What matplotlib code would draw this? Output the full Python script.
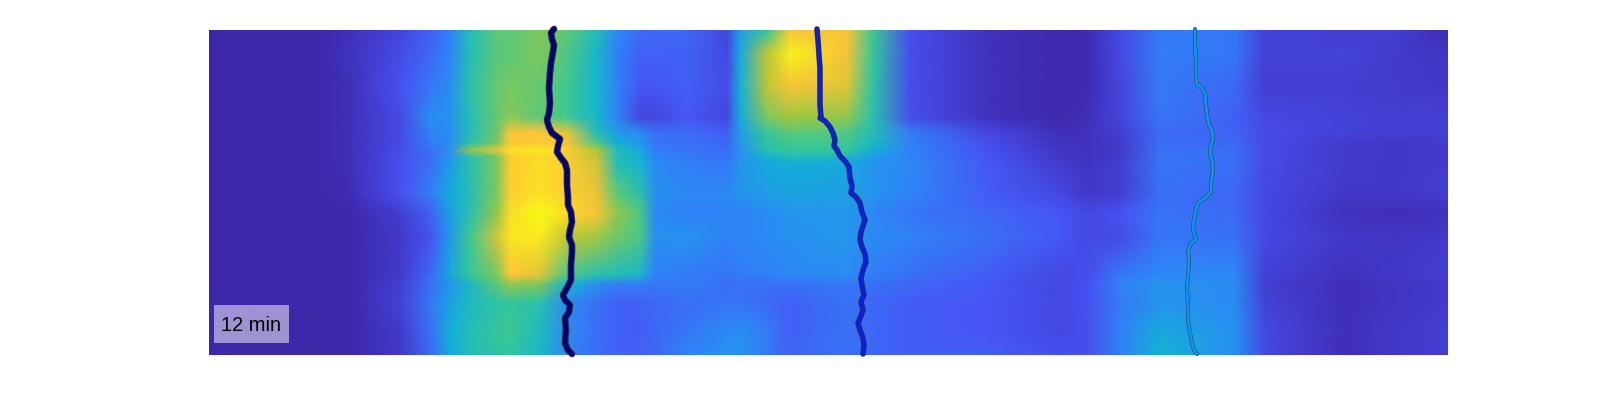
import numpy as np
import matplotlib
matplotlib.use("Agg")
import matplotlib.pyplot as plt
from matplotlib.colors import LinearSegmentedColormap
from matplotlib.patches import Rectangle
import matplotlib.patheffects as pe

# grid positions, read in reference pixels
grid_x = [209, 313, 348, 400, 430, 450, 470, 497, 510, 540, 567, 597, 617, 640, 655,
          687, 727, 740, 767, 790, 847, 873, 910, 987, 1060, 1087, 1120, 1160, 1235, 1265, 1345, 1395, 1448]
grid_y = [30, 53, 87, 117, 133, 143, 150, 157, 163, 193, 213, 237, 275, 284, 303, 330, 355]

# left half of the heat map
left_vals = [
    [0, 0, .03, .10, .18, .27, .50, .62, .62, .66, .62, .50, .30, .22, .20],
    [0, 0, .04, .12, .20, .28, .50, .61, .62, .66, .60, .45, .27, .18, .18],
    [0, 0, .03, .14, .24, .31, .52, .63, .65, .63, .58, .45, .28, .16, .15],
    [0, 0, .03, .12, .30, .33, .50, .63, .67, .62, .58, .45, .28, .10, .10],
    [0, 0, .03, .12, .27, .31, .50, .64, .86, .86, .82, .50, .36, .30, .22],
    [0, 0, .03, .12, .25, .31, .52, .66, .87, .87, .84, .60, .42, .34, .24],
    [0, 0, .03, .13, .23, .31, .68, .82, .93, .95, .88, .72, .50, .40, .26],
    [0, 0, .03, .13, .22, .33, .52, .66, .88, .92, .87, .74, .50, .43, .28],
    [0, 0, .03, .13, .22, .35, .52, .66, .88, .92, .88, .78, .50, .45, .30],
    [0, 0, .02, .14, .26, .40, .50, .66, .88, .93, .88, .82, .62, .52, .32],
    [0, 0, 0, .08, .18, .36, .52, .68, .92, 1.0, .92, .84, .68, .60, .30],
    [0, 0, 0, .06, .14, .35, .58, .78, .94, .95, .75, .70, .64, .60, .32],
    [0, 0, 0, .07, .20, .40, .56, .66, .86, .80, .60, .52, .50, .46, .27],
    [0, 0, 0, .08, .22, .33, .47, .62, .68, .66, .45, .32, .26, .26, .24],
    [0, 0, 0, .09, .24, .38, .48, .54, .56, .52, .30, .22, .18, .18, .20],
    [0, 0, 0, .07, .22, .42, .50, .56, .58, .48, .30, .22, .18, .17, .20],
    [0, 0, 0, .06, .20, .40, .50, .54, .55, .47, .28, .22, .18, .18, .20],
]
# right half of the heat map
right_vals = [
    [.20, .10, .36, .55, .84, .84, .58, .13, .04, .01, .02, .11, .25, .24, .09, .08, .08, .02],
    [.19, .11, .40, .74, .97, .84, .56, .13, .04, .01, .02, .11, .26, .24, .09, .09, .07, .05],
    [.18, .12, .42, .74, .84, .80, .54, .13, .04, .01, .02, .10, .25, .20, .08, .08, .07, .06],
    [.16, .10, .40, .66, .70, .68, .52, .13, .04, .01, .03, .10, .24, .18, .11, .09, .08, .08],
    [.22, .17, .36, .56, .62, .60, .50, .26, .11, .03, .04, .08, .21, .19, .12, .09, .08, .08],
    [.23, .20, .34, .54, .58, .58, .48, .27, .13, .04, .04, .07, .22, .20, .12, .07, .06, .07],
    [.24, .22, .32, .52, .56, .56, .42, .28, .14, .05, .04, .07, .22, .22, .12, .07, .06, .07],
    [.25, .23, .32, .44, .50, .48, .36, .28, .15, .06, .04, .07, .24, .22, .12, .07, .06, .07],
    [.26, .25, .33, .40, .42, .40, .33, .29, .16, .07, .05, .08, .24, .22, .12, .07, .06, .07],
    [.29, .29, .33, .36, .38, .37, .33, .28, .17, .11, .06, .08, .22, .20, .11, .06, .06, .08],
    [.27, .27, .28, .30, .33, .34, .29, .24, .20, .15, .11, .14, .24, .21, .11, .04, .03, .04],
    [.33, .27, .28, .30, .32, .34, .30, .27, .22, .16, .11, .12, .24, .23, .11, .06, .05, .07],
    [.25, .24, .26, .27, .29, .30, .26, .23, .17, .11, .13, .24, .29, .29, .09, .04, .06, .08],
    [.26, .22, .22, .23, .23, .25, .23, .20, .16, .11, .14, .27, .33, .30, .08, .03, .05, .07],
    [.22, .24, .24, .21, .18, .23, .20, .17, .15, .11, .14, .25, .33, .30, .09, .03, .05, .07],
    [.24, .29, .31, .25, .18, .23, .20, .17, .15, .11, .13, .27, .40, .32, .11, .03, .06, .08],
    [.28, .33, .33, .25, .19, .23, .20, .17, .17, .13, .13, .27, .44, .32, .11, .03, .06, .08],
]

# the three fronts
front1_x = [554, 551, 552, 554, 553, 551, 550, 549, 550, 549, 547, 549, 552, 556, 560, 558, 557, 561, 565, 567,
            567, 568, 568, 571, 572, 570, 569, 572, 572, 571, 571, 567, 563, 565, 570, 569, 565, 566, 565, 568, 572]
front1_y = [29, 33, 39, 45, 52, 63, 73, 88, 103, 113, 120, 127, 133, 136, 139, 146, 152, 158, 163, 170,
            185, 197, 205, 212, 222, 230, 237, 245, 252, 265, 280, 288, 295, 300, 305, 312, 318, 330, 343, 350, 354]
front2_x = [817, 818, 819, 820, 820, 820, 821, 820, 825, 830, 833, 835, 834, 837, 840, 845, 849, 850, 852, 851,
            856, 860, 862, 865, 863, 861, 860, 862, 865, 866, 863, 861, 862, 864, 861, 863, 861, 858, 860, 863, 864, 863]
front2_y = [29, 40, 55, 68, 87, 105, 117, 118, 121, 127, 133, 140, 146, 150, 156, 161, 167, 178, 186, 193,
            197, 203, 212, 220, 226, 232, 240, 247, 254, 262, 270, 278, 285, 295, 302, 310, 316, 323, 330, 338, 345, 354]
front3_x = [1195, 1195, 1196, 1196, 1197, 1200, 1205, 1206, 1207, 1209, 1212, 1213, 1211, 1210, 1212, 1213, 1212, 1211,
            1211, 1205, 1198, 1196, 1194, 1193, 1194, 1196, 1191, 1188, 1189, 1188, 1187, 1188, 1188, 1190, 1192, 1194, 1197]
front3_y = [29, 42, 60, 78, 85, 86, 93, 105, 115, 125, 130, 138, 146, 152, 160, 168, 178, 183,
            192, 198, 203, 209, 220, 227, 234, 240, 243, 250, 262, 275, 290, 305, 320, 333, 343, 350, 354]

time_label = "12 min"

parula = LinearSegmentedColormap.from_list("parula_like", [
    (0.2422, 0.1504, 0.6603), (0.2810, 0.3228, 0.9579), (0.1786, 0.5289, 0.9682),
    (0.0689, 0.6948, 0.8394), (0.2161, 0.7843, 0.5923), (0.6720, 0.7793, 0.2227),
    (0.9970, 0.7659, 0.2199), (0.9769, 0.9839, 0.0805)], N=256)

plt.rcParams['font.family'] = ['Liberation Sans', 'DejaVu Sans']

fig = plt.figure(figsize=(16, 4), dpi=100)
ax = fig.add_axes([209 / 1600, 1 - 355 / 400, 1239 / 1600, 325 / 400])

values = np.hstack([np.array(left_vals), np.array(right_vals)])
ax.pcolormesh(grid_x, grid_y, values, shading='gouraud', cmap=parula, vmin=0, vmax=1, rasterized=True)

# outline first, then the coloured core
for xs, ys, core, w_out, w_in in [
    (front1_x, front1_y, '#00007f', 4.8, 3.2),
    (front2_x, front2_y, '#0a1ee6', 4.0, 2.8),
    (front3_x, front3_y, '#0a96f0', 2.8, 2.2),
]:
    ax.plot(xs, ys, color=core, lw=w_in, clip_on=False, solid_capstyle='round', solid_joinstyle='round', zorder=3,
            path_effects=[pe.Stroke(linewidth=w_out, foreground='#303030'), pe.Normal()])

ax.add_patch(Rectangle((214, 305), 75, 38, facecolor='#a092d2', edgecolor='none', zorder=4))
ax.text(221, 325, time_label, fontsize=14.4, color='black', va='center', ha='left', zorder=5)

ax.set_xlim(209, 1448)
ax.set_ylim(355, 30)
ax.axis('off')

fig.savefig('out.png', dpi=100)
plt.close(fig)
